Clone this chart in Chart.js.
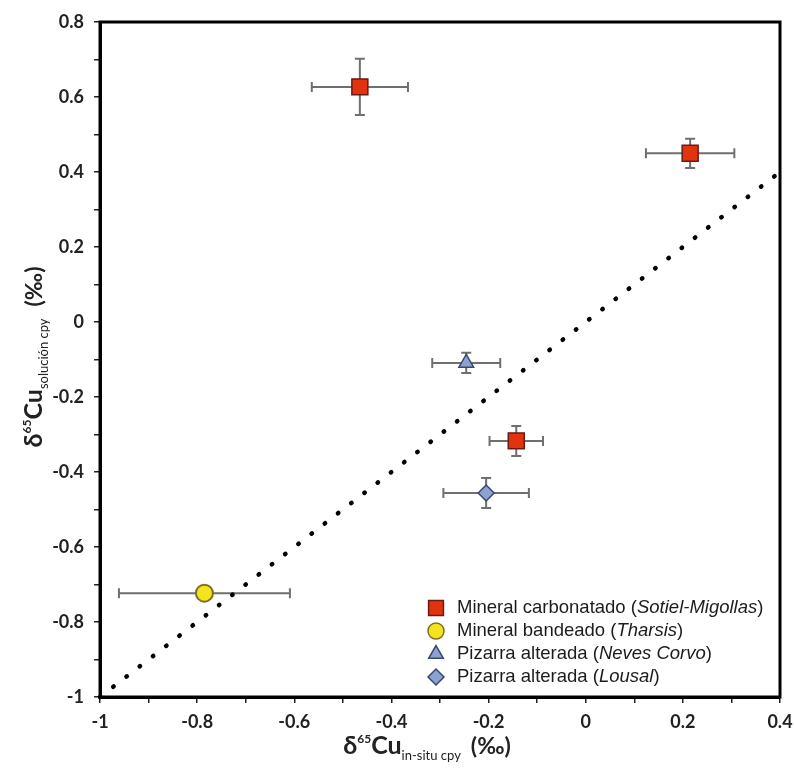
<!DOCTYPE html>
<html lang="es">
<head>
  <meta charset="UTF-8">
  <title>δ65Cu solución vs in-situ</title>
  <script src="https://cdn.jsdelivr.net/npm/chart.js"></script>
  <style>
    html, body { margin: 0; padding: 0; background: #fff; }
    #wrap { width: 795px; height: 769px; position: relative; }
  </style>
</head>
<body>
  <div id="wrap"><canvas id="chart"></canvas></div>
  <script>
    // datos (‰)
    const sotielX = [-0.465, 0.215, -0.143];
    const sotielY = [0.627, 0.450, -0.317];
    const sotielErrX = [0.099, 0.091, 0.055];
    const sotielErrY = [0.075, 0.039, 0.040];

    const tharsisX = [-0.785];
    const tharsisY = [-0.723];
    const tharsisErrX = [0.176];
    const tharsisErrY = [0];

    const nevesX = [-0.246];
    const nevesY = [-0.109];
    const nevesErrX = [0.070];
    const nevesErrY = [0.027];

    const lousalX = [-0.205];
    const lousalY = [-0.456];
    const lousalErrX = [0.088];
    const lousalErrY = [0.040];

    // recta 1:1
    const lineX = [-1, 0.4];
    const lineY = [-1, 0.4];

    const xRange = [-1, 0.4];
    const yRange = [-1, 0.8];
    const tickStep = 0.1;

    const legendNames = ['Mineral carbonatado (', 'Mineral bandeado (', 'Pizarra alterada (', 'Pizarra alterada ('];
    const legendSites = ['Sotiel-Migollas', 'Tharsis', 'Neves Corvo', 'Lousal'];

    function pts(xs, ys, ex, ey) {
      return xs.map((x, i) => ({ x: x, y: ys[i], ex: ex ? ex[i] : 0, ey: ey ? ey[i] : 0 }));
    }

    function tickLabel(v) {
      const n = Math.round(v * 10);
      if (n % 2 !== 0) return '';
      const r = n / 10;
      return r === 0 ? '0' : String(r);
    }

    const FONT = 'Lato, "Open Sans", sans-serif';
    const LEG_FONT = '18.5px "Liberation Sans", Arial, sans-serif';

    const errorBars = {
      id: 'errorBars',
      beforeDatasetsDraw(chart) {
        const ctx = chart.ctx;
        const xs = chart.scales.x, ys = chart.scales.y;
        ctx.save();
        ctx.strokeStyle = '#6f6f6f';
        ctx.lineWidth = 2;
        chart.data.datasets.forEach(ds => {
          if (ds.type === 'line') return;
          ds.data.forEach(p => {
            const cx = xs.getPixelForValue(p.x), cy = ys.getPixelForValue(p.y);
            if (p.ex) {
              const l = xs.getPixelForValue(p.x - p.ex), r = xs.getPixelForValue(p.x + p.ex);
              ctx.beginPath();
              ctx.moveTo(l, cy); ctx.lineTo(r, cy);
              ctx.moveTo(l, cy - 5); ctx.lineTo(l, cy + 5);
              ctx.moveTo(r, cy - 5); ctx.lineTo(r, cy + 5);
              ctx.stroke();
            }
            if (p.ey) {
              const t = ys.getPixelForValue(p.y + p.ey), b = ys.getPixelForValue(p.y - p.ey);
              ctx.beginPath();
              ctx.moveTo(cx, t); ctx.lineTo(cx, b);
              ctx.moveTo(cx - 5, t); ctx.lineTo(cx + 5, t);
              ctx.moveTo(cx - 5, b); ctx.lineTo(cx + 5, b);
              ctx.stroke();
            }
          });
        });
        ctx.restore();
      }
    };

    function drawRich(ctx, parts, cx, baseY) {
      let total = 0;
      parts.forEach(p => { ctx.font = p.font; p.w = ctx.measureText(p.text).width; total += p.w + (p.gap || 0); });
      let x = cx - total / 2;
      parts.forEach(p => {
        ctx.font = p.font;
        ctx.fillText(p.text, x, baseY + (p.dy || 0));
        x += p.w + (p.gap || 0);
      });
    }

    const decorations = {
      id: 'decorations',
      afterDraw(chart) {
        const ctx = chart.ctx;
        const a = chart.chartArea;
        ctx.save();
        // marco
        ctx.strokeStyle = '#000';
        ctx.lineWidth = 3;
        ctx.strokeRect(a.left, a.top, a.right - a.left, a.bottom - a.top);

        // títulos de ejes
        ctx.fillStyle = '#222';
        ctx.textBaseline = 'alphabetic';
        ctx.textAlign = 'left';
        drawRich(ctx, [
          { text: 'δ', font: 'bold 25px ' + FONT },
          { text: '65', font: 'bold 12px ' + FONT, dy: -11 },
          { text: 'Cu', font: 'bold 25px ' + FONT },
          { text: 'in-situ cpy', font: '13px ' + FONT, dy: 6, gap: 10 },
          { text: '(‰)', font: 'bold 23px ' + FONT }
        ], 427, 754);

        ctx.save();
        ctx.translate(42, 357);
        ctx.rotate(-Math.PI / 2);
        drawRich(ctx, [
          { text: 'δ', font: 'bold 25px ' + FONT },
          { text: '65', font: 'bold 12px ' + FONT, dy: -11 },
          { text: 'Cu', font: 'bold 25px ' + FONT },
          { text: 'solución cpy', font: '13px ' + FONT, dy: 6, gap: 12 },
          { text: '(‰)', font: 'bold 23px ' + FONT }
        ], 0, 0);
        ctx.restore();

        // leyenda
        const series = chart.data.datasets.filter(d => d.type !== 'line');
        const rowY = [608, 631, 654, 677];
        series.forEach((ds, i) => {
          ctx.fillStyle = ds.backgroundColor;
          ctx.strokeStyle = ds.borderColor;
          ctx.lineWidth = 1.5;
          ctx.beginPath();
          Chart.helpers.drawPoint(ctx, {
            pointStyle: ds.pointStyle,
            radius: ds.legendRadius,
            rotation: 0,
            borderWidth: 1.5
          }, 436, rowY[i]);
          ctx.fillStyle = '#1c1c1c';
          ctx.textBaseline = 'middle';
          let x = 457;
          ctx.font = LEG_FONT;
          ctx.fillText(legendNames[i], x, rowY[i]);
          x += ctx.measureText(legendNames[i]).width;
          ctx.font = 'italic ' + LEG_FONT;
          ctx.fillText(legendSites[i], x, rowY[i]);
          x += ctx.measureText(legendSites[i]).width;
          ctx.font = LEG_FONT;
          ctx.fillText(')', x, rowY[i]);
        });
        ctx.restore();
      }
    };

    const tickFont = { family: FONT, size: 18, weight: 'bold' };

    new Chart(document.getElementById('chart'), {
      type: 'scatter',
      data: {
        datasets: [
          {
            label: 'Mineral carbonatado (Sotiel-Migollas)',
            data: pts(sotielX, sotielY, sotielErrX, sotielErrY),
            pointStyle: 'rect', pointRadius: 11.3, legendRadius: 10.5,
            backgroundColor: '#e2330f', borderColor: '#6b1a12', borderWidth: 1.5
          },
          {
            label: 'Mineral bandeado (Tharsis)',
            data: pts(tharsisX, tharsisY, tharsisErrX, tharsisErrY),
            pointStyle: 'circle', pointRadius: 8.5, legendRadius: 8,
            backgroundColor: '#f4e41f', borderColor: '#7d7020', borderWidth: 2
          },
          {
            label: 'Pizarra alterada (Neves Corvo)',
            data: pts(nevesX, nevesY, nevesErrX, nevesErrY),
            pointStyle: 'triangle', pointRadius: 8.5, legendRadius: 8.5,
            backgroundColor: '#8ea2d2', borderColor: '#3a4870', borderWidth: 1.5
          },
          {
            label: 'Pizarra alterada (Lousal)',
            data: pts(lousalX, lousalY, lousalErrX, lousalErrY),
            pointStyle: 'rectRot', pointRadius: 8, legendRadius: 8,
            backgroundColor: '#8ea2d2', borderColor: '#3a4870', borderWidth: 1.5
          },
          {
            type: 'line',
            label: '1:1',
            data: pts(lineX, lineY),
            borderColor: '#000',
            borderWidth: 4.5,
            borderDash: [0.5, 16.2],
            borderCapStyle: 'round',
            pointRadius: 0,
            fill: false,
            clip: false
          }
        ]
      },
      options: {
        responsive: true,
        maintainAspectRatio: false,
        animation: false,
        events: [],
        layout: { padding: { top: 22, right: 15, left: 0, bottom: 0 } },
        plugins: { legend: { display: false }, tooltip: { enabled: false } },
        scales: {
          x: {
            type: 'linear',
            min: xRange[0], max: xRange[1],
            afterFit(scale) { scale.height = 72; scale.paddingRight = 0; scale.paddingLeft = 0; },
            ticks: { stepSize: tickStep, autoSkip: false, maxRotation: 0, maxTicksLimit: 30,
                     callback: tickLabel, font: tickFont, color: '#222', padding: 8 },
            grid: { drawOnChartArea: false, tickLength: 6, color: '#222', lineWidth: 1.5 },
            border: { color: '#000', width: 3 }
          },
          y: {
            type: 'linear',
            min: yRange[0], max: yRange[1],
            afterFit(scale) { scale.width = 100; scale.paddingTop = 0; scale.paddingBottom = 0; },
            ticks: { stepSize: tickStep, autoSkip: false, maxTicksLimit: 30,
                     callback: tickLabel, font: tickFont, color: '#222', padding: 10 },
            grid: { drawOnChartArea: false, tickLength: 6, color: '#222', lineWidth: 1.5 },
            border: { color: '#000', width: 3 }
          }
        }
      },
      plugins: [errorBars, decorations]
    });
  </script>
</body>
</html>
